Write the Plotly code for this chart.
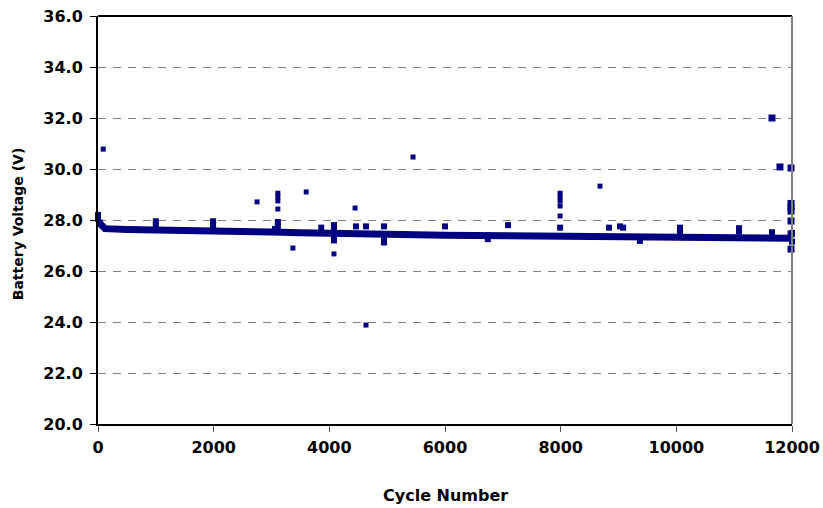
import plotly.graph_objects as go

# main voltage band (cycle, volts)
base_cycle = [0, 120, 500, 1000, 1500, 2000, 2500, 3000, 3500, 4000, 4500, 5000,
              5500, 6000, 6500, 7000, 7500, 8000, 8500, 9000, 9500, 10000,
              10500, 11000, 11500, 12000]
base_volt = [27.95, 27.66, 27.63, 27.62, 27.60, 27.60, 27.56, 27.53, 27.50, 27.47,
             27.46, 27.43, 27.41, 27.40, 27.39, 27.38, 27.38, 27.37, 27.36, 27.34,
             27.32, 27.31, 27.30, 27.30, 27.29, 27.28]

# short spikes on the band
spike_cycle = [0, 0, 30, 1000, 1000, 1990, 1990, 3110, 3110, 3060, 3860,
               4080, 4080, 4080, 4080, 4460, 4634, 4945, 4945, 4945, 6000, 6740,
               7090, 7990, 8835, 9025, 9080, 9370, 10063, 10063, 11084, 11084,
               11654, 12000, 12000]
spike_volt = [28.2, 28.05, 27.9, 27.95, 27.8, 27.95, 27.8, 27.92, 27.75, 27.65, 27.7,
              27.8, 27.65, 27.35, 27.2, 27.75, 27.75, 27.75, 27.3, 27.12, 27.75, 27.25,
              27.8, 27.7, 27.7, 27.75, 27.7, 27.18, 27.7, 27.55, 27.68, 27.55,
              27.52, 27.49, 27.15]

# scattered outliers
out_cycle = [90, 2750, 3110, 3110, 3110, 3110, 3600, 3370, 4080, 4445, 5447,
             4634, 8680, 7990, 7990, 7990, 7990, 7990]
out_volt = [30.78, 28.71, 29.05, 28.9, 28.75, 28.43, 29.1, 26.9, 26.67, 28.47, 30.47,
            23.88, 29.33, 29.05, 28.9, 28.75, 28.55, 28.16]

# late outliers (larger markers)
late_cycle = [11654, 11792, 11983, 11983, 11983, 11983, 11983, 11983, 11983]
late_volt = [32.0, 30.08, 30.04, 28.65, 28.5, 28.35, 27.96, 27.45, 26.86]

navy = '#000080'
fig = go.Figure()

fig.add_trace(go.Scatter(x=base_cycle, y=base_volt, mode='lines',
                         line=dict(color=navy, width=7), cliponaxis=False))
fig.add_trace(go.Scatter(x=spike_cycle, y=spike_volt, mode='markers', cliponaxis=False,
                         marker=dict(symbol='square', size=6, color=navy)))
fig.add_trace(go.Scatter(x=out_cycle, y=out_volt, mode='markers', cliponaxis=False,
                         marker=dict(symbol='square', size=5, color=navy)))
fig.add_trace(go.Scatter(x=late_cycle, y=late_volt, mode='markers', cliponaxis=False,
                         marker=dict(symbol='square', size=7, color=navy)))

tick_font = dict(family='DejaVu Sans', size=16, color='black', weight='bold')

fig.update_layout(
    width=823, height=508,
    margin=dict(l=98, r=31, t=16, b=84),
    paper_bgcolor='white', plot_bgcolor='white',
    showlegend=False,
    xaxis=dict(range=[0, 12000], tickvals=[0, 2000, 4000, 6000, 8000, 10000, 12000],
               tickformat='d', showgrid=False, zeroline=False, automargin=False,
               showline=True, linecolor='black', linewidth=2,
               ticks='outside', ticklen=6, tickcolor='#555555',
               ticklabelstandoff=2, ticklabeloverflow='allow', tickfont=tick_font),
    yaxis=dict(range=[20, 36], tickvals=[20, 22, 24, 26, 28, 30, 32, 34, 36],
               tickformat='.1f', showgrid=True, gridcolor='#808080', gridwidth=1,
               griddash='8px,7px', zeroline=False, automargin=False,
               showline=True, linecolor='black', linewidth=2,
               ticks='outside', ticklen=6, tickcolor='black',
               ticklabelstandoff=4, ticklabeloverflow='allow', tickfont=tick_font),
    shapes=[
        dict(type='line', xref='paper', yref='paper', x0=0, x1=1, y0=1, y1=1,
             line=dict(color='black', width=2)),
        dict(type='line', xref='paper', yref='paper', x0=1, x1=1, y0=0, y1=1,
             line=dict(color='#808080', width=2)),
    ],
    annotations=[
        dict(text='Cycle Number', xref='paper', yref='paper', x=0.5, y=-0.176,
             xanchor='center', yanchor='middle', showarrow=False,
             font=dict(family='DejaVu Sans', size=16, color='black', weight='bold')),
        dict(text='Battery Voltage (V)', xref='paper', yref='paper', x=-0.115, y=0.49,
             xanchor='center', yanchor='middle', showarrow=False, textangle=-90,
             font=dict(family='DejaVu Sans', size=14, color='black', weight='bold')),
    ],
)

# drop the default 8px body margin so the figure sits flush in the window
fig.write_html("out.html", config={'displayModeBar': False},
               post_script="document.body.style.margin='0px';")
